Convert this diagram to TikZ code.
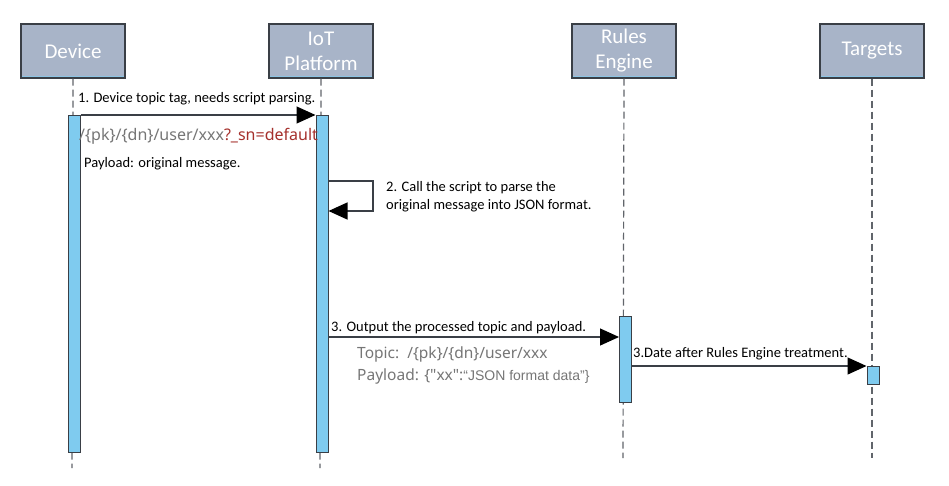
\documentclass[tikz,border=0pt]{standalone}
\usepackage{fontspec}
\setmainfont{Carlito}
\newfontfamily\yahei{Noto Sans}
\newfontfamily\arialf{Liberation Sans}
\usetikzlibrary{arrows.meta,calc}
\definecolor{headfill}{HTML}{A8B4C8}
\definecolor{headline}{HTML}{3A3F46}
\definecolor{barfill}{HTML}{7FCBEF}
\definecolor{stripe}{HTML}{8CC4E4}
\definecolor{topicgray}{HTML}{767676}
\definecolor{snred}{HTML}{A5302C}
\tikzset{
  x=1pt,y=-1pt,
  headbox/.style={draw=headline,line width=1.2pt,fill=headfill,minimum width=104pt,minimum height=54pt,inner sep=0pt,text=white,font=\fontsize{21}{25}\selectfont,align=center},
  lifeline/.style={draw=headline!80,line width=1.2pt,dash pattern=on 7pt off 4pt},
  actbar/.style={draw=headline,line width=1pt,fill=barfill,minimum width=12pt,inner sep=0pt},
  msg/.style={draw=headline,line width=1.2pt,-{Triangle[length=19pt,width=17pt,color=black]}},
  msglabel/.style={font=\fontsize{14.5}{18}\selectfont,inner sep=0pt,anchor=base west,text=black},
}
\begin{document}
\begin{tikzpicture}
\useasboundingbox[fill=white] (0,0) rectangle (949,486);
% headers
\node[headbox] (dev) at (73,51) {Device};
\node[headbox] (iot) at (321,51) {IoT\\Platform};
\node[headbox] (rul) at (624,51) {Rules\\Engine};
\node[headbox] (tgt) at (872,51) {Targets};
\foreach \n in {dev,iot,rul,tgt}{
  \draw[stripe,line width=1.5pt] ([xshift=1.5pt,yshift=2.2pt]\n.south west) -- ([xshift=-1.5pt,yshift=2.2pt]\n.south east);
}
% lifeline end coordinates
\coordinate (devend) at (72,468);
\coordinate (iotend) at (320,468);
\coordinate (rulend) at (623,458);
\coordinate (tgtend) at (872,458);
\draw[lifeline] (dev.south) -- (devend);
\draw[lifeline] (iot.south) -- (iotend);
\draw[lifeline] (rul.south) -- (rulend);
\draw[lifeline] (tgt.south) -- (tgtend);
% activation bars
\node[actbar,minimum height=337pt,anchor=north] (devbar) at (74,115) {};
\node[actbar,minimum height=337pt,anchor=north] (iotbar) at (322,115) {};
\node[actbar,minimum height=86pt,anchor=north] (rulbar) at (625.5,316) {};
\node[actbar,minimum height=18pt,anchor=north] (tgtbar) at (873,366) {};
% message 1
\draw[msg] (devbar.north east) -- (iotbar.north west);
\node[msglabel] (m1) at (78,103) {1. Device topic tag, needs script parsing.};
\node[inner sep=0pt,anchor=base west,font=\yahei\fontsize{16}{18}\selectfont] (t1) at (79,141) {\textcolor{topicgray}{/\{pk\}/\{dn\}/user/xxx}\textcolor{snred}{?\_sn=default}};
\node[msglabel] (p1) at (84,168) {Payload: original message.};
% message 2 (self)
\coordinate (s1) at (373,181);
\coordinate (s2) at (373,211);
\draw[msg] ($(iotbar.north east)+(0,66)$) -- (s1) -- (s2) -- ($(iotbar.north east)+(0,96)$);
\node[msglabel,align=left,anchor=north west,font=\fontsize{14.5}{18}\selectfont] (m2) at (386,181) {2. Call the script to parse the\\original message into JSON format.};
% message 3
\draw[msg] ($(iotbar.north east)+(0,222)$) -- ($(rulbar.north west)+(0,21)$);
\node[msglabel] (m3) at (331,331) {3. Output the processed topic and payload.};
\node[inner sep=0pt,anchor=base west,font=\yahei\fontsize{15.5}{16}\selectfont,text=topicgray] (t3) at (357,358) {Topic:~~/\{pk\}/\{dn\}/user/xxx};
\node[inner sep=0pt,anchor=base west,font=\yahei\fontsize{15.5}{16}\selectfont,text=topicgray] (p3) at (357,380) {Payload: \{"xx":\arialf\fontsize{14}{14}\selectfont “JSON format data”\}};
% message 4
\draw[msg] ($(rulbar.north east)+(0,50)$) -- (tgtbar.north west);
\node[msglabel] (m4) at (633,357) {3.Date after Rules Engine treatment.};
\end{tikzpicture}
\end{document}
